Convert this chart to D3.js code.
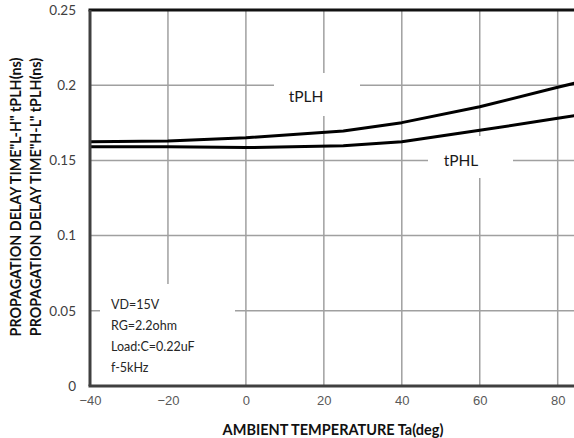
<!DOCTYPE html>
<html>
<head>
<meta charset="utf-8">
<script src="https://cdn.jsdelivr.net/npm/d3@7"></script>
<style>
  body { margin: 0; background: #fff; }
  svg { display: block; }
</style>
</head>
<body>
<svg id="chart"></svg>
<script>
// temperatures (deg) and delays (ns)
const temps = [-40, -20, 0, 25, 40, 60, 80, 85];
const tPLH = [0.1624, 0.1629, 0.1651, 0.1695, 0.1751, 0.1857, 0.1986, 0.2017];
const tPHL = [0.1591, 0.159, 0.1585, 0.1598, 0.1624, 0.170, 0.178, 0.180];

const xticks = [-40, -20, 0, 20, 40, 60, 80];
const yticks = [0, 0.05, 0.1, 0.15, 0.2, 0.25];
const conditions = ['VD=15V', 'RG=2.2ohm', 'Load:C=0.22uF', 'f-5kHz'];
const ytitle = ['PROPAGATION DELAY TIME"L-H" tPLH(ns)', 'PROPAGATION DELAY TIME"H-L" tPLH(ns)'];
const xtitle = 'AMBIENT TEMPERATURE Ta(deg)';

const width = 574, height = 438;
const margin = { top: 10, left: 90, bottom: 52 };

const svg = d3.select('#chart')
    .attr('width', width)
    .attr('height', height);

const plotBottom = height - margin.bottom;

const xscale = d3.scaleLinear()
    .domain([-40, 100])
    .range([margin.left, margin.left + 140 * 3.8975]);

const yscale = d3.scaleLinear()
    .domain([0, 0.25])
    .range([plotBottom, margin.top]);

const grid = svg.append('g')
    .attr('stroke', '#a0a0a0')
    .attr('stroke-width', 1.5);

grid.selectAll('line.v')
    .data(xticks.slice(1))
    .join('line')
    .attr('class', 'v')
    .attr('x1', d => xscale(d)).attr('x2', d => xscale(d))
    .attr('y1', margin.top).attr('y2', plotBottom);

grid.selectAll('line.h')
    .data(yticks.slice(1, -1))
    .join('line')
    .attr('class', 'h')
    .attr('x1', margin.left).attr('x2', width)
    .attr('y1', d => yscale(d)).attr('y2', d => yscale(d));

// white boxes behind the labels
const boxes = svg.append('g').attr('fill', '#fff');
boxes.append('rect').attr('x', 100).attr('y', 284).attr('width', 135).attr('height', plotBottom - 284);
boxes.append('rect').attr('x', 274).attr('y', 73).attr('width', 86).attr('height', 43);
boxes.append('rect').attr('x', 428).attr('y', 136).attr('width', 85).attr('height', 42);

// curves
const line = d3.line()
    .x(d => xscale(d[0]))
    .y(d => yscale(d[1]));

[tPLH, tPHL].forEach(series => {
    svg.append('path')
        .datum(temps.map((t, i) => [t, series[i]]))
        .attr('fill', 'none')
        .attr('stroke', '#000')
        .attr('stroke-width', 3)
        .attr('stroke-linejoin', 'round')
        .attr('d', line);
});

// axes
const xaxis = d3.axisBottom(xscale)
    .tickValues(xticks)
    .tickSize(0)
    .tickPadding(10);

const yaxis = d3.axisLeft(yscale)
    .tickValues(yticks)
    .tickSize(0)
    .tickPadding(14)
    .tickFormat(d3.format('~g'));

svg.append('g')
    .attr('transform', `translate(0, ${plotBottom})`)
    .call(xaxis)
    .call(g => g.select('.domain').remove())
    .selectAll('text')
    .attr('font-family', 'Liberation Sans, Arial, sans-serif')
    .attr('font-size', 13)
    .attr('fill', '#595959');

svg.append('g')
    .attr('transform', `translate(${margin.left}, 0)`)
    .call(yaxis)
    .call(g => g.select('.domain').remove())
    .selectAll('text')
    .attr('font-family', 'Lato, sans-serif')
    .attr('font-size', 13.5)
    .attr('fill', '#404040');

// frame
svg.append('line')
    .attr('x1', margin.left - 1.5).attr('x2', width)
    .attr('y1', margin.top).attr('y2', margin.top)
    .attr('stroke', '#111').attr('stroke-width', 3);
svg.append('line')
    .attr('x1', margin.left).attr('x2', margin.left)
    .attr('y1', margin.top).attr('y2', plotBottom)
    .attr('stroke', '#404040').attr('stroke-width', 3);
svg.append('line')
    .attr('x1', margin.left - 1.5).attr('x2', width)
    .attr('y1', plotBottom).attr('y2', plotBottom)
    .attr('stroke', '#404040').attr('stroke-width', 3);

// labels
const font = 'Lato, sans-serif';

svg.append('text')
    .attr('x', 306).attr('y', 97).attr('dy', '0.35em')
    .attr('text-anchor', 'middle')
    .attr('font-family', font).attr('font-size', 15.5)
    .attr('fill', '#1a1a1a')
    .text('tPLH');

svg.append('text')
    .attr('x', 461).attr('y', 161).attr('dy', '0.35em')
    .attr('text-anchor', 'middle')
    .attr('font-family', font).attr('font-size', 15.5)
    .attr('fill', '#1a1a1a')
    .text('tPHL');

svg.append('g')
    .selectAll('text')
    .data(conditions)
    .join('text')
    .attr('x', 111)
    .attr('y', (d, i) => 305 + i * 21)
    .attr('dy', '0.35em')
    .attr('font-family', font).attr('font-size', 12.5)
    .attr('fill', '#262626')
    .text(d => d);

svg.append('text')
    .attr('x', 333).attr('y', 430).attr('dy', '0.35em')
    .attr('text-anchor', 'middle')
    .attr('font-family', font).attr('font-size', 14.5).attr('font-weight', 'bold')
    .attr('fill', '#111')
    .text(xtitle);

svg.append('g')
    .selectAll('text')
    .data(ytitle)
    .join('text')
    .attr('transform', (d, i) => `translate(${16 + i * 20}, 197) rotate(-90)`)
    .attr('dy', '0.35em')
    .attr('text-anchor', 'middle')
    .attr('font-family', font).attr('font-size', 14.3).attr('font-weight', 'bold')
    .attr('fill', '#111')
    .text(d => d);
</script>
</body>
</html>
